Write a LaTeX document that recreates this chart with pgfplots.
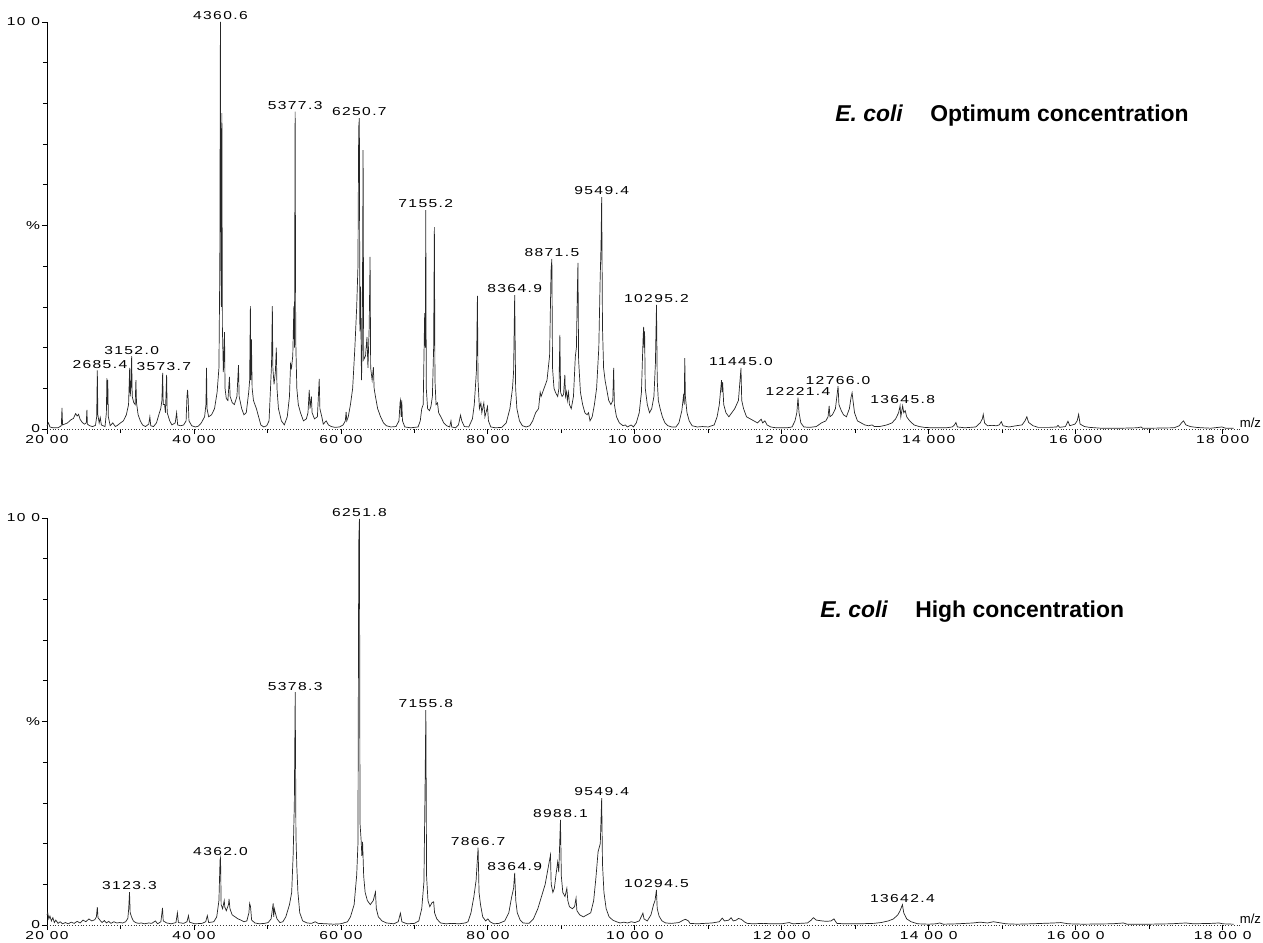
\documentclass[border=0pt]{standalone}
\usepackage{pgfplots}
\pgfplotsset{compat=1.18}
\usepackage{fontspec}
\setmainfont{Liberation Sans}
\newfontfamily\msfont[FakeStretch=1.35,LetterSpace=12]{Liberation Sans}

\pgfplotsset{
 msaxis/.style={
  scale only axis, width=597bp, height=203.5bp,
  xmin=2000, xmax=18250, ymin=0, ymax=100,
  axis x line=bottom, axis y line=left,
  axis line style={-, line width=0.4bp, black},
  x axis line style={densely dotted, black!80},
  scaled x ticks=false, scaled y ticks=false,
  xtick={2000,4000,...,18000},
  minor xtick={3000,5000,...,17000},
  ytick={0,50,100}, minor ytick={10,20,...,90},
  yticklabels={0,\%,10 0},
  tick align=outside,
  major tick length=2.5bp, minor tick length=2bp,
  tick style={line width=0.4bp, black},
  tick label style={font=\fontsize{5.8}{6.2}\msfont},
  xticklabel style={inner sep=0.5bp},
  yticklabel style={inner sep=0.8bp},
  clip=false,
 },
}
\tikzset{
 spec/.style={black!85, line width=0.35bp, mark=none},
 lab/.style={anchor=south, inner sep=0.8bp, font=\fontsize{5.8}{6.2}\msfont},
 ttl/.style={anchor=west, inner sep=0pt, font=\fontsize{11.5}{13}\selectfont\bfseries},
 mz/.style={anchor=south east, inner sep=0.3bp, xshift=10.5bp, font=\fontsize{6.6}{7}\selectfont},
}

\begin{document}
\begin{tikzpicture}
\useasboundingbox (-23.5bp,-257bp) rectangle (608bp,214.5bp);

% ---------------- top: optimum concentration ----------------
\begin{axis}[msaxis, at={(0,0)}, anchor=south west,
  xticklabels={20 00,40 00,60 00,80 00,10 000,12 000,14 000,16 000,18 000}]
\addplot[spec] coordinates {
(2000,0.8) (2020,1.5) (2040,0.5) (2080,0.3) (2150,0.3) (2195,0.8) (2204,5.2) (2212,1.0)
(2240,1.2) (2280,1.5) (2320,2.2) (2360,2.6) (2390,3.8) (2410,3.2) (2430,3.6) (2450,2.4)
(2480,1.6) (2510,1.2) (2535,1.5) (2543,4.7) (2550,1.2) (2580,0.8) (2620,0.6) (2660,0.9)
(2676,3.0) (2685,14.4) (2692,3.5) (2710,1.5) (2725,2.8) (2740,1.0) (2790,0.6) (2808,4.0)
(2815,12.5) (2821,6.0) (2827,12.0) (2835,3.0) (2860,0.8) (2895,1.5) (2930,0.6) (2960,0.9)
(3000,1.5) (3040,2.0) (3080,3.5) (3110,6.0) (3125,15.0) (3132,8.0) (3142,10.0) (3152,17.9)
(3160,8.0) (3180,6.5) (3200,6.0) (3210,12.0) (3218,6.5) (3240,3.5) (3270,2.0) (3300,1.0)
(3340,0.6) (3385,1.2) (3400,3.0) (3412,0.8) (3450,0.6) (3490,1.5) (3530,4.0) (3548,5.0)
(3564,7.0) (3574,13.8) (3582,6.0) (3600,6.0) (3612,4.0) (3628,13.3) (3636,4.0) (3670,2.0)
(3700,1.0) (3745,1.5) (3764,4.0) (3778,1.0) (3820,0.8) (3860,1.0) (3893,2.0) (3905,8.0)
(3913,9.6) (3921,7.5) (3932,2.0) (3970,0.8) (4020,0.5) (4060,0.7) (4100,1.5) (4145,3.0)
(4163,6.0) (4171,15.0) (4178,5.0) (4200,3.0) (4240,3.5) (4280,5.0) (4315,9.0) (4340,15.0)
(4352,40.0) (4360,100) (4367,45.0) (4373,30.0) (4380,77.6) (4387,25.0) (4400,14.0) (4410,20.0)
(4416,23.8) (4423,10.0) (4440,7.5) (4462,7.0) (4483,12.8) (4492,8.0) (4520,6.5) (4550,6.0)
(4585,8.0) (4606,15.7) (4615,8.0) (4650,5.0) (4680,3.5) (4712,4.0) (4745,9.0) (4758,12.0)
(4768,30.2) (4774,12.0) (4782,22.0) (4792,10.0) (4810,7.0) (4850,5.0) (4880,3.0) (4910,1.0)
(4950,0.5) (4990,0.8) (5022,2.0) (5042,10.0) (5056,16.0) (5067,30.2) (5074,15.0) (5090,11.0)
(5108,14.0) (5121,20.0) (5130,10.0) (5150,5.0) (5190,2.0) (5230,1.0) (5270,3.0) (5300,8.0)
(5315,16.0) (5328,15.0) (5345,18.0) (5360,30.2) (5368,20.0) (5377,78.0) (5385,22.0) (5400,10.0)
(5420,6.0) (5450,4.0) (5490,2.0) (5530,2.5) (5552,4.0) (5569,9.6) (5580,5.0) (5598,8.0)
(5608,4.0) (5640,2.5) (5680,3.0) (5705,12.3) (5714,5.0) (5740,3.0) (5760,1.2) (5800,2.0)
(5830,1.0) (5870,0.6) (5920,0.4) (5980,0.5) (6030,1.0) (6060,2.0) (6071,4.2) (6080,2.0)
(6100,3.0) (6130,6.0) (6160,10.0) (6190,20.0) (6215,30.0) (6232,40.0) (6242,74.0) (6251,76.4)
(6258,24.0) (6268,35.0) (6280,12.0) (6290,20.0) (6302,68.5) (6310,17.0) (6335,18.0) (6355,22.6)
(6368,15.0) (6385,25.0) (6397,42.3) (6405,15.0) (6425,12.0) (6442,15.2) (6452,10.0) (6470,8.0)
(6500,5.0) (6540,3.0) (6580,1.5) (6620,0.8) (6680,0.5) (6750,0.6) (6790,2.0) (6805,6.5)
(6812,7.1) (6820,3.0) (6828,7.0) (6838,2.0) (6870,0.5) (6950,0.3) (7050,0.5) (7080,2.0)
(7100,5.0) (7120,6.0) (7140,28.5) (7148,20.0) (7155,53.8) (7162,10.0) (7180,5.0) (7205,4.5)
(7225,5.5) (7245,8.0) (7262,20.0) (7272,49.6) (7280,12.0) (7295,6.0) (7315,6.4) (7330,4.0)
(7360,3.0) (7400,1.5) (7440,0.8) (7480,0.5) (7498,2.0) (7508,0.5) (7560,0.3) (7600,1.0)
(7628,3.4) (7645,2.0) (7680,0.6) (7740,0.5) (7790,2.5) (7815,6.0) (7845,14.5) (7858,32.7)
(7866,12.0) (7885,5.0) (7905,6.4) (7918,4.0) (7945,6.4) (7960,3.0) (7995,5.5) (8008,2.0)
(8040,0.5) (8100,0.3) (8190,0.4) (8250,1.5) (8300,5.0) (8335,10.0) (8350,14.0) (8365,32.9)
(8378,10.0) (8395,5.0) (8430,2.0) (8470,0.8) (8520,0.5) (8570,0.8) (8610,2.0) (8650,4.0)
(8690,5.0) (8712,9.0) (8725,8.0) (8765,10.0) (8805,12.0) (8840,18.0) (8860,39.0) (8871,41.8)
(8880,15.0) (8900,10.0) (8920,9.0) (8950,8.0) (8968,10.0) (8980,23.1) (8990,9.0) (9010,8.0)
(9030,8.5) (9048,13.3) (9056,8.0) (9072,9.2) (9082,7.0) (9098,9.0) (9110,6.0) (9135,5.0)
(9165,8.0) (9190,17.7) (9205,20.0) (9218,34.0) (9226,40.8) (9235,17.0) (9260,9.0) (9290,6.0)
(9320,4.0) (9350,3.5) (9370,4.0) (9390,2.0) (9420,3.0) (9450,6.0) (9480,10.0) (9510,20.0)
(9528,36.6) (9540,45.0) (9549,57.0) (9560,25.0) (9575,15.0) (9595,12.0) (9615,10.0) (9645,7.0)
(9675,6.0) (9700,7.0) (9712,15.0) (9722,6.0) (9750,3.0) (9790,1.5) (9840,0.8) (9870,1.0)
(9900,0.5) (9950,1.0) (9980,0.5) (10020,1.5) (10060,4.0) (10090,9.0) (10112,22.0) (10120,25.1)
(10126,20.0) (10133,24.0) (10142,10.0) (10170,6.0) (10200,4.0) (10230,5.0) (10260,8.0) (10280,16.0)
(10295,30.5) (10305,12.0) (10320,7.0) (10345,5.0) (10375,3.0) (10410,1.5) (10450,0.8) (10500,0.5)
(10560,0.5) (10600,1.5) (10640,4.5) (10665,8.6) (10672,6.0) (10680,17.4) (10688,8.0) (10710,4.0)
(10740,2.0) (10780,0.8) (10850,0.5) (10920,0.6) (11000,0.5) (11080,1.0) (11120,3.0) (11150,6.0)
(11180,12.0) (11188,9.0) (11195,11.5) (11210,6.0) (11240,4.0) (11280,3.0) (11320,4.0) (11360,5.0)
(11410,7.0) (11445,15.0) (11455,7.0) (11480,5.0) (11520,3.0) (11570,2.5) (11620,2.0) (11670,1.5)
(11720,2.4) (11740,1.5) (11770,2.0) (11800,1.0) (11850,0.5) (11920,0.3) (12070,0.3) (12140,0.5)
(12180,2.0) (12205,4.0) (12221,7.7) (12235,4.0) (12260,1.5) (12300,0.5) (12380,0.4) (12470,0.6)
(12540,1.5) (12600,2.0) (12630,3.0) (12645,5.7) (12655,3.0) (12690,3.5) (12730,5.0) (12750,8.0)
(12766,10.5) (12778,6.0) (12810,4.5) (12840,3.5) (12880,3.0) (12920,5.0) (12945,8.0) (12957,8.9)
(12970,6.9) (12990,4.0) (13030,2.0) (13080,1.5) (13130,1.0) (13180,0.8) (13230,1.0) (13260,0.6)
(13330,0.6) (13430,1.0) (13500,1.5) (13550,2.5) (13590,4.0) (13610,5.7) (13620,3.0) (13645,5.7)
(13660,4.0) (13680,4.5) (13700,3.0) (13740,2.0) (13800,1.0) (13870,0.6) (13940,0.4) (14040,0.3)
(14240,0.3) (14320,0.5) (14350,1.0) (14370,1.6) (14390,0.5) (14490,0.3) (14640,0.5) (14700,1.5)
(14730,2.5) (14742,3.6) (14760,1.5) (14800,0.8) (14860,0.9) (14920,0.8) (14960,1.0) (14988,1.8)
(15010,0.8) (15090,0.5) (15190,0.8) (15270,1.0) (15310,2.0) (15335,3.0) (15360,1.6) (15420,0.8)
(15490,0.4) (15640,0.4) (15740,0.5) (15760,0.9) (15780,0.4) (15860,0.6) (15895,1.9) (15920,0.8)
(15990,1.2) (16020,2.0) (16040,3.6) (16060,1.2) (16120,0.6) (16190,0.4) (16340,0.2) (16640,0.2)
(16840,0.3) (16890,0.5) (16910,0.2) (17040,0.2) (17340,0.3) (17410,0.8) (17440,1.5) (17467,2.0)
(17500,1.0) (17560,0.6) (17640,0.4) (17720,0.3) (17840,0.2) (17990,0.5) (18040,0.2) (18150,0.2)
};
\node[lab] at (axis cs:4360,100) {4360.6};
\node[lab] at (axis cs:5377,78) {5377.3};
\node[lab] at (axis cs:6251,76.4) {6250.7};
\node[lab] at (axis cs:7155,53.8) {7155.2};
\node[lab] at (axis cs:8365,32.9) {8364.9};
\node[lab] at (axis cs:8871,41.8) {8871.5};
\node[lab] at (axis cs:9549,57) {9549.4};
\node[lab] at (axis cs:10295,30.5) {10295.2};
\node[lab] at (axis cs:11445,15) {11445.0};
\node[lab] at (axis cs:12221,7.7) {12221.4};
\node[lab] at (axis cs:12766,10.5) {12766.0};
\node[lab] at (axis cs:13645,5.7) {13645.8};
\node[lab] at (axis cs:3152,17.9) {3152.0};
\node[lab] at (axis cs:2720,14.4) {2685.4};
\node[lab] at (axis cs:3590,13.8) {3573.7};
\node[ttl] at (axis cs:12723,77.1) {\itshape E.~coli\hspace{1.2em}\upshape Optimum concentration};
\node[mz] at (axis cs:18250,0) {m/z};
\end{axis}

% ---------------- bottom: high concentration ----------------
\begin{axis}[msaxis, at={(0,-248bp)}, anchor=south west,
  xticklabels={20 00,40 00,60 00,80 00,10 00 0,12 00 0,14 00 0,16 00 0,18 00 0}]
\addplot[spec] coordinates {
(2000,2.5) (2010,3.0) (2025,1.5) (2040,2.2) (2060,1.0) (2080,1.8) (2100,0.6) (2120,1.2)
(2150,0.4) (2180,0.8) (2210,0.3) (2250,0.6) (2290,0.3) (2330,0.7) (2370,0.4) (2410,0.9)
(2450,0.5) (2490,1.2) (2530,0.8) (2570,1.5) (2610,1.0) (2650,1.3) (2672,2.0) (2685,4.4)
(2694,1.8) (2720,1.2) (2750,0.6) (2780,1.1) (2810,0.5) (2840,0.9) (2870,0.4) (2910,0.8)
(2950,0.5) (2990,0.6) (3030,0.5) (3070,0.8) (3100,1.6) (3112,4.0) (3123,8.1) (3132,3.0)
(3150,2.0) (3175,1.0) (3205,0.6) (3245,0.4) (3285,0.5) (3325,0.3) (3385,0.5) (3425,0.4)
(3475,1.0) (3505,0.3) (3550,0.8) (3572,4.2) (3582,1.0) (3630,0.5) (3690,0.3) (3755,0.6)
(3775,3.0) (3788,0.6) (3860,0.4) (3905,0.8) (3925,2.3) (3940,0.7) (4010,0.3) (4110,0.4)
(4160,0.8) (4182,2.3) (4200,0.6) (4270,0.8) (4310,2.0) (4340,6.0) (4355,16.0) (4362,16.5)
(4370,5.0) (4390,4.0) (4412,6.0) (4420,4.4) (4440,3.5) (4470,5.0) (4478,6.4) (4490,4.0)
(4520,2.5) (4560,2.0) (4600,1.5) (4640,1.2) (4680,0.8) (4720,1.0) (4748,3.0) (4758,5.3)
(4770,4.5) (4785,1.2) (4830,0.5) (4890,0.3) (4960,0.4) (5010,0.6) (5050,1.5) (5078,5.3)
(5085,2.0) (5094,4.0) (5110,2.8) (5130,1.5) (5170,0.6) (5210,0.8) (5250,2.0) (5300,5.0)
(5330,8.0) (5350,17.2) (5366,29.5) (5378,57.2) (5388,22.0) (5400,14.3) (5415,8.0) (5440,3.0)
(5480,1.0) (5540,0.5) (5600,0.4) (5650,0.8) (5690,0.4) (5800,0.3) (5900,0.2) (6000,0.3)
(6090,0.8) (6130,2.0) (6180,5.0) (6215,12.3) (6232,20.0) (6243,94.0) (6252,99.8) (6260,25.0)
(6275,20.9) (6285,17.0) (6295,20.4) (6310,12.0) (6330,8.0) (6360,6.0) (6400,5.0) (6440,6.0)
(6470,8.1) (6482,4.0) (6510,2.0) (6560,1.0) (6620,0.5) (6720,0.3) (6780,0.8) (6810,2.9)
(6830,0.8) (6900,0.3) (7000,0.4) (7060,1.0) (7100,4.0) (7130,10.6) (7146,34.9) (7156,52.8)
(7166,12.0) (7185,6.0) (7210,4.5) (7240,5.5) (7262,5.7) (7275,3.0) (7305,1.5) (7355,0.5)
(7430,0.3) (7510,0.4) (7610,0.3) (7690,0.5) (7730,0.8) (7770,3.0) (7810,7.0) (7840,11.0)
(7867,19.0) (7880,8.0) (7900,5.0) (7930,2.0) (7970,1.0) (8000,1.5) (8030,0.8) (8080,0.3)
(8150,0.4) (8230,1.0) (8285,3.0) (8325,7.0) (8350,9.0) (8365,12.8) (8380,6.0) (8400,3.0)
(8440,1.2) (8480,0.5) (8560,0.4) (8620,1.5) (8680,4.0) (8730,7.0) (8780,10.0) (8820,14.0)
(8852,17.2) (8862,10.0) (8885,8.0) (8905,9.0) (8925,12.0) (8950,15.5) (8965,13.0) (8988,25.8)
(9000,12.0) (9020,8.0) (9050,7.0) (9075,9.0) (9088,6.0) (9110,4.5) (9150,4.0) (9180,4.5)
(9200,6.6) (9212,3.5) (9250,2.5) (9300,2.0) (9350,2.5) (9400,3.0) (9440,6.0) (9470,11.5)
(9500,18.0) (9530,20.0) (9549,31.2) (9560,15.0) (9580,8.0) (9610,4.0) (9650,2.0) (9700,1.2)
(9750,0.8) (9800,0.5) (9850,0.7) (9900,0.5) (9950,0.8) (10000,0.6) (10060,1.0) (10110,2.9)
(10125,1.5) (10170,1.0) (10220,2.5) (10255,5.0) (10275,6.0) (10294,8.6) (10305,4.0) (10330,2.2)
(10370,1.0) (10420,0.5) (10500,0.4) (10600,0.6) (10660,1.2) (10690,1.4) (10730,1.0) (10750,0.4)
(10850,0.3) (10950,0.4) (11050,0.5) (11150,0.8) (11190,1.7) (11220,1.0) (11280,1.2) (11310,1.8)
(11340,1.0) (11380,1.2) (11410,1.6) (11450,1.4) (11490,0.8) (11530,0.4) (11610,0.3) (11750,0.4)
(11850,0.3) (12000,0.3) (12100,0.6) (12150,0.3) (12350,0.5) (12400,1.2) (12430,1.8) (12470,1.2)
(12550,1.0) (12610,0.9) (12670,1.0) (12710,1.5) (12750,0.4) (12850,0.3) (13050,0.3) (13250,0.4)
(13350,0.6) (13450,1.0) (13520,1.5) (13580,2.5) (13610,3.5) (13642,5.0) (13660,3.0) (13700,1.5)
(13760,0.8) (13850,0.3) (14000,0.2) (14100,0.3) (14150,0.5) (14200,0.2) (14400,0.3) (14600,0.5)
(14700,0.7) (14800,0.5) (14880,0.8) (14950,0.6) (15050,0.3) (15200,0.2) (15400,0.3) (15700,0.5)
(15800,0.6) (15900,0.3) (16100,0.2) (16500,0.3) (16650,0.5) (16700,0.2) (17000,0.2) (17300,0.3)
(17500,0.5) (17600,0.3) (17850,0.4) (17950,0.5) (18000,0.3) (18150,0.2)
};
\node[lab] at (axis cs:6252,99.8) {6251.8};
\node[lab] at (axis cs:5378,57.2) {5378.3};
\node[lab] at (axis cs:7156,52.8) {7155.8};
\node[lab] at (axis cs:9549,31.2) {9549.4};
\node[lab] at (axis cs:8988,25.8) {8988.1};
\node[lab] at (axis cs:7867,19) {7866.7};
\node[lab] at (axis cs:8365,12.8) {8364.9};
\node[lab] at (axis cs:4362,16.5) {4362.0};
\node[lab] at (axis cs:3123,8.1) {3123.3};
\node[lab] at (axis cs:10294,8.6) {10294.5};
\node[lab] at (axis cs:13642,5) {13642.4};
\node[ttl] at (axis cs:12519,76.9) {\itshape E.~coli\hspace{1.2em}\upshape High concentration};
\node[mz] at (axis cs:18250,0) {m/z};
\end{axis}
\end{tikzpicture}
\end{document}
